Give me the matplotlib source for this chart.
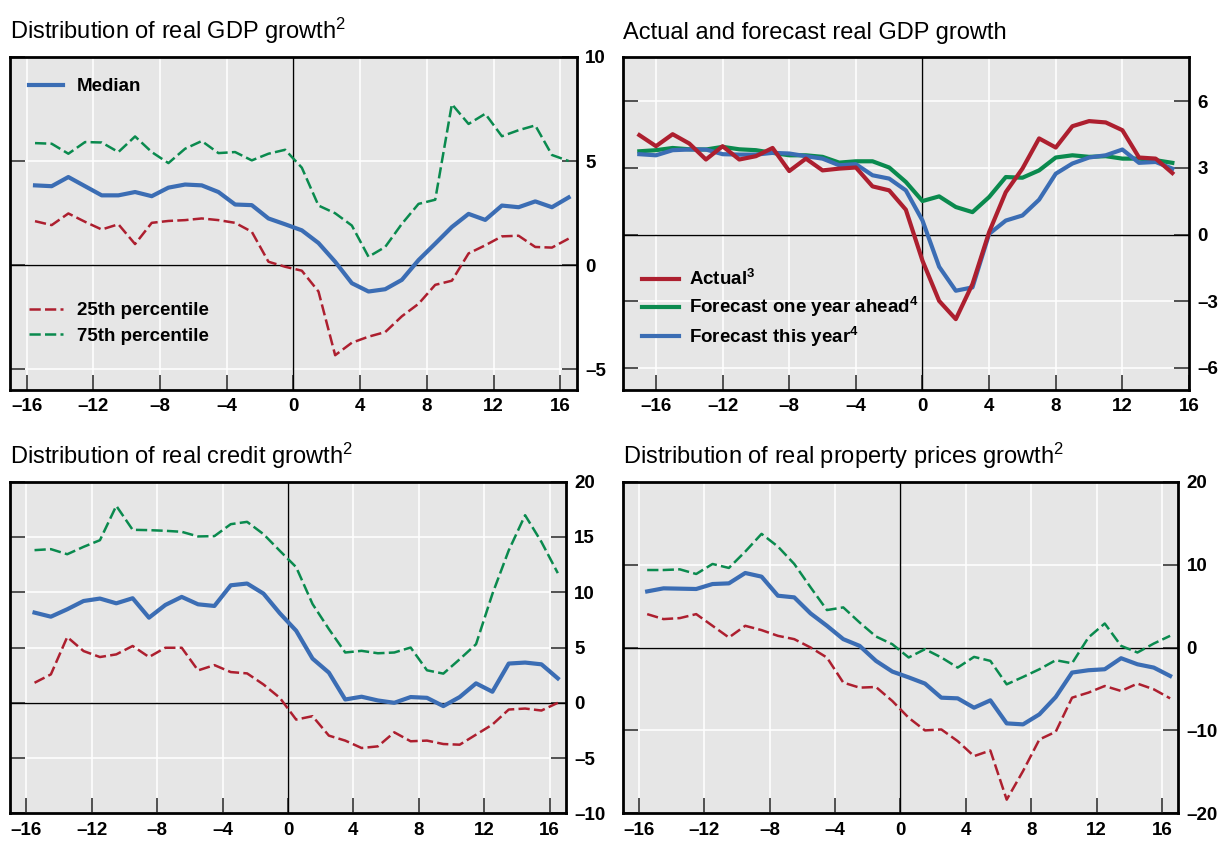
import matplotlib
matplotlib.use('Agg')
import matplotlib.pyplot as plt
from matplotlib.ticker import FuncFormatter
import numpy as np

plt.rcParams['font.family'] = ['Liberation Sans', 'DejaVu Sans']
plt.rcParams['mathtext.fontset'] = 'custom'
plt.rcParams['mathtext.rm'] = 'Liberation Sans'
plt.rcParams['mathtext.bf'] = 'Liberation Sans:bold'
plt.rcParams['mathtext.default'] = 'regular'

# quarters relative to the event (panels 1, 3, 4) and years (panel 2)
quarters = np.arange(-15.5, 16.6, 1.0)
years = np.arange(-17, 16)

# real GDP growth distribution
gdp_median = [3.83, 3.79, 4.23, 3.79, 3.35, 3.35, 3.51, 3.31, 3.72, 3.87, 3.83, 3.51, 2.91, 2.88, 2.24, 1.96,
              1.67, 1.06, 0.16, -0.87, -1.27, -1.16, -0.71, 0.24, 1.03, 1.83, 2.46, 2.17, 2.86, 2.78, 3.06, 2.78, 3.25]
gdp_p25 = [2.11, 1.92, 2.48, 2.08, 1.71, 1.96, 1.01, 2.03, 2.12, 2.16, 2.24, 2.16, 2.03, 1.60, 0.16, -0.08,
           -0.27, -1.27, -4.33, -3.73, -3.44, -3.22, -2.46, -1.86, -0.95, -0.75, 0.56, 0.95, 1.38, 1.41, 0.87, 0.84, 1.27]
gdp_p75 = [5.86, 5.83, 5.35, 5.91, 5.89, 5.43, 6.18, 5.43, 4.90, 5.59, 5.96, 5.38, 5.43, 5.03, 5.35, 5.54,
           4.68, 2.86, 2.49, 1.90, 0.40, 0.87, 1.98, 2.94, 3.14, 7.73, 6.78, 7.27, 6.19, 6.48, 6.71, 5.29, 5.00]

# actual and forecast real GDP growth
actual = [4.48, 3.98, 4.52, 4.10, 3.38, 3.98, 3.38, 3.53, 3.90, 2.86, 3.42, 2.89, 2.97, 3.02, 2.17, 1.99, 1.12,
          -1.18, -2.99, -3.81, -2.23, 0.11, 1.91, 2.97, 4.33, 3.92, 4.88, 5.11, 5.05, 4.70, 3.47, 3.42, 2.77]
fc_ahead = [3.75, 3.80, 3.90, 3.84, 3.83, 3.95, 3.84, 3.80, 3.68, 3.57, 3.57, 3.50, 3.24, 3.30, 3.30, 3.02, 2.37,
            1.51, 1.72, 1.24, 1.01, 1.69, 2.59, 2.56, 2.89, 3.47, 3.57, 3.50, 3.53, 3.42, 3.42, 3.35, 3.23]
fc_this = [3.62, 3.57, 3.80, 3.83, 3.83, 3.62, 3.60, 3.60, 3.68, 3.65, 3.53, 3.42, 3.12, 3.17, 2.67, 2.52, 1.99,
           0.63, -1.45, -2.53, -2.38, 0.03, 0.63, 0.86, 1.57, 2.74, 3.20, 3.47, 3.57, 3.83, 3.23, 3.27, 2.97]

# real credit growth distribution
cred_median = [8.16, 7.79, 8.46, 9.21, 9.43, 9.00, 9.46, 7.70, 8.85, 9.58, 8.91, 8.76, 10.63, 10.79, 9.88, 8.10,
               6.52, 4.00, 2.73, 0.30, 0.55, 0.21, 0.00, 0.52, 0.45, -0.30, 0.52, 1.76, 1.00, 3.55, 3.64, 3.48, 2.21]
cred_p25 = [1.81, 2.57, 5.95, 4.68, 4.14, 4.38, 5.14, 4.14, 4.98, 4.98, 2.93, 3.41, 2.78, 2.66, 1.66, 0.45,
            -1.52, -1.21, -2.97, -3.42, -4.09, -3.94, -2.67, -3.48, -3.42, -3.73, -3.79, -2.88, -1.97, -0.61, -0.52, -0.70, 0.00]
cred_p75 = [13.81, 13.90, 13.44, 14.11, 14.71, 17.82, 15.65, 15.62, 15.56, 15.47, 15.05, 15.08, 16.16, 16.37, 15.26, 13.75,
            12.27, 8.94, 6.67, 4.55, 4.70, 4.48, 4.55, 5.00, 2.94, 2.64, 3.94, 5.30, 9.85, 13.79, 16.97, 14.55, 11.73]

# real property prices growth distribution
prop_median = [6.77, 7.14, 7.10, 7.06, 7.66, 7.74, 8.99, 8.55, 6.25, 6.05, 4.11, 2.62, 1.01, 0.20, -1.61, -2.90,
               -3.60, -4.35, -6.05, -6.13, -7.26, -6.37, -9.15, -9.27, -8.06, -5.97, -3.02, -2.74, -2.62, -1.29, -2.02, -2.42, -3.43]
prop_p25 = [4.03, 3.43, 3.55, 4.03, 2.62, 1.21, 2.62, 2.10, 1.41, 1.01, 0.00, -1.21, -4.23, -4.84, -4.76, -6.45,
            -8.47, -10.00, -9.88, -11.29, -13.10, -12.42, -18.35, -14.90, -11.09, -10.16, -6.05, -5.44, -4.64, -5.24, -4.35, -5.04, -6.13]
prop_p75 = [9.35, 9.35, 9.43, 8.87, 10.08, 9.60, 11.57, 13.71, 12.18, 10.08, 7.26, 4.52, 4.84, 3.02, 1.33, 0.40,
            -1.20, -0.20, -1.20, -2.42, -1.13, -1.61, -4.44, -3.55, -2.62, -1.53, -1.90, 1.21, 2.90, 0.20, -0.60, 0.48, 1.41]

BLUE = '#3b6db4'
RED = '#ad1f2f'
GREEN = '#0a8a4e'
BG = '#e6e6e6'
DASH = (0, (4.5, 1.7))

minus = FuncFormatter(lambda v, p: ('%d' % v).replace('-', '\u2013'))


def style(ax, xlim, ylim, yticks, title):
    ax.set_facecolor(BG)
    ax.set_xlim(*xlim)
    ax.set_ylim(*ylim)
    ax.set_xticks(np.arange(-16, 17, 4))
    ax.set_yticks(yticks)
    ax.xaxis.set_major_formatter(minus)
    ax.yaxis.set_major_formatter(minus)
    ax.grid(True, color='white', lw=1.1, zorder=0)
    ax.set_axisbelow(True)
    ax.axhline(0, color='black', lw=1.0, zorder=1)
    ax.axvline(0, color='black', lw=1.0, zorder=1)
    for s in ax.spines.values():
        s.set_linewidth(2.0)
    ax.tick_params(axis='both', direction='in', length=11, width=1.2, color='#333333',
                   labelsize=13.5, pad=6)
    ax.tick_params(axis='y', left=True, right=True, labelleft=False, labelright=True)
    for lab in ax.get_xticklabels() + ax.get_yticklabels():
        lab.set_fontweight('bold')
    ax.set_title(title, loc='left', fontsize=17, pad=13)


fig = plt.figure(figsize=(12.19, 8.41), dpi=100)
ax1 = fig.add_axes([0.0082, 0.5363, 0.4651, 0.396])
ax2 = fig.add_axes([0.5108, 0.5363, 0.4646, 0.396])
ax3 = fig.add_axes([0.0082, 0.0329, 0.4561, 0.3943])
ax4 = fig.add_axes([0.5108, 0.0329, 0.4558, 0.3943])

leg_font = {'weight': 'bold', 'size': 13.5}

# panel 1
style(ax1, (-17, 17), (-6, 10), [-5, 0, 5, 10], r'Distribution of real GDP growth$^{2}$')
l_med, = ax1.plot(quarters, gdp_median, color=BLUE, lw=3.0, zorder=4, label='Median')
l_25, = ax1.plot(quarters, gdp_p25, color=RED, lw=1.8, ls=DASH, zorder=3, label='25th percentile')
l_75, = ax1.plot(quarters, gdp_p75, color=GREEN, lw=1.8, ls=DASH, zorder=3, label='75th percentile')
leg_a = ax1.legend(handles=[l_med], loc='center left', bbox_to_anchor=(0.033, 0.91), frameon=False,
                   prop=leg_font, handlelength=1.85, handletextpad=0.7, borderpad=0, borderaxespad=0)
ax1.add_artist(leg_a)
ax1.legend(handles=[l_25, l_75], loc='center left', bbox_to_anchor=(0.033, 0.2), frameon=False,
           prop=leg_font, handlelength=1.85, handletextpad=0.7, borderpad=0, borderaxespad=0,
           labelspacing=0.45)

# panel 2
style(ax2, (-18, 16), (-7, 8), [-6, -3, 0, 3, 6], 'Actual and forecast real GDP growth')
ax2.plot(years, actual, color=RED, lw=3.0, zorder=5, label=r'Actual$^{\mathbf{3}}$')
ax2.plot(years, fc_ahead, color=GREEN, lw=3.0, zorder=3, label=r'Forecast one year ahead$^{\mathbf{4}}$')
ax2.plot(years, fc_this, color=BLUE, lw=3.0, zorder=4, label=r'Forecast this year$^{\mathbf{4}}$')
ax2.legend(loc='center left', bbox_to_anchor=(0.035, 0.243), frameon=False, prop=leg_font,
           handlelength=1.95, handletextpad=0.55, borderpad=0, borderaxespad=0, labelspacing=0.3)

# panel 3
style(ax3, (-17, 17), (-10, 20), [-10, -5, 0, 5, 10, 15, 20], r'Distribution of real credit growth$^{2}$')
ax3.plot(quarters, cred_median, color=BLUE, lw=3.0, zorder=4)
ax3.plot(quarters, cred_p25, color=RED, lw=1.8, ls=DASH, zorder=3)
ax3.plot(quarters, cred_p75, color=GREEN, lw=1.8, ls=DASH, zorder=3)

# panel 4
style(ax4, (-17, 17), (-20, 20), [-20, -10, 0, 10, 20], r'Distribution of real property prices growth$^{2}$')
ax4.plot(quarters, prop_median, color=BLUE, lw=3.0, zorder=4)
ax4.plot(quarters, prop_p25, color=RED, lw=1.8, ls=DASH, zorder=3)
ax4.plot(quarters, prop_p75, color=GREEN, lw=1.8, ls=DASH, zorder=3)

fig.savefig('out.png', dpi=100)
